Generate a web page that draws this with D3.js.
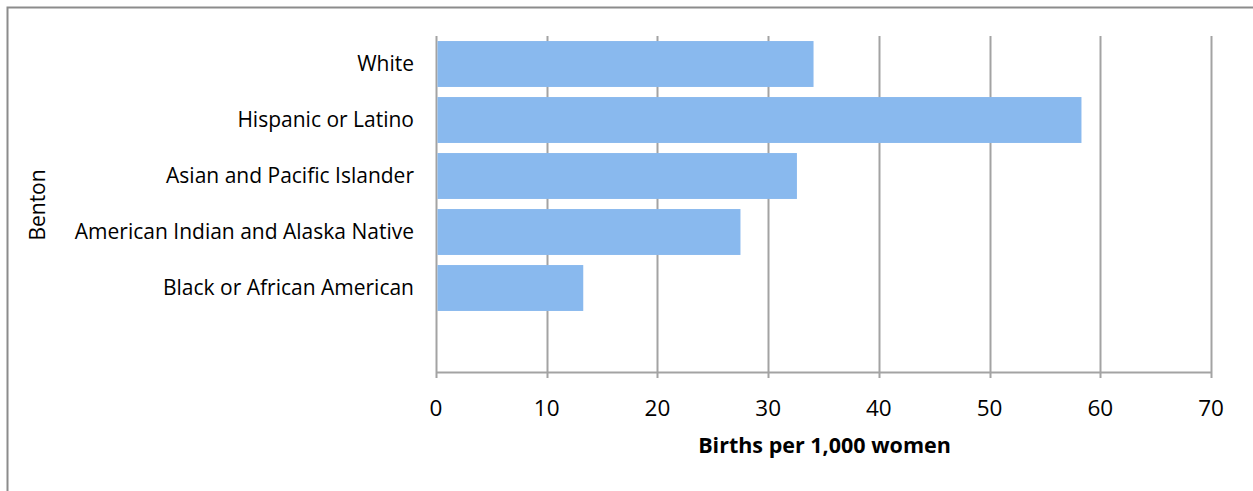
<!DOCTYPE html>
<html>
<head>
<meta charset="utf-8">
<script src="https://cdn.jsdelivr.net/npm/d3@7"></script>
<style>
  html, body { margin: 0; padding: 0; background: #fff; }
  svg { display: block; }
  text { font-family: "Open Sans", "Noto Sans", sans-serif; fill: #000; }
</style>
</head>
<body>
<svg id="chart" width="1253" height="491"></svg>
<script>
// Birth rates by race, Benton County (births per 1,000 women)
const categories = ["White", "Hispanic or Latino", "Asian and Pacific Islander",
                    "American Indian and Alaska Native", "Black or African American", ""];
const births = [34.1, 58.3, 32.6, 27.5, 13.3, null];
const xTicks = [0, 10, 20, 30, 40, 50, 60, 70];
const groupLabel = "Benton";
const xTitle = "Births per 1,000 women";

const svg = d3.select("#chart");
const W = 1253, H = 491;
const plot = { left: 436, right: 1211, top: 36, bottom: 372 };
const gridColor = "#a3a3a3";
const barColor = "#89b9ee";

svg.append("rect").attr("width", W).attr("height", H).attr("fill", "#fff");

// Chart frame
svg.append("rect")
  .attr("x", 7.5).attr("y", 7.5)
  .attr("width", W + 20).attr("height", H + 20)
  .attr("fill", "none").attr("stroke", "#8c8c8c").attr("stroke-width", 2);

const x = d3.scaleLinear().domain([0, 70]).range([plot.left, plot.right]);
const y = d3.scaleBand().domain(categories)
  .range([plot.top, plot.bottom])
  .paddingInner(0.18).paddingOuter(0.09);

// Vertical gridlines, extending below the axis as tick marks
svg.append("g").selectAll("line").data(xTicks).join("line")
  .attr("x1", d => Math.round(x(d)) + 0.5).attr("x2", d => Math.round(x(d)) + 0.5)
  .attr("y1", plot.top).attr("y2", plot.bottom + 6)
  .attr("stroke", gridColor).attr("stroke-width", 2);

// Horizontal value axis line
svg.append("line")
  .attr("x1", plot.left).attr("x2", plot.right + 1)
  .attr("y1", plot.bottom + 0.5).attr("y2", plot.bottom + 0.5)
  .attr("stroke", gridColor).attr("stroke-width", 2);

// Bars
const rows = categories.map((c, i) => ({ c, v: births[i] })).filter(d => d.v != null);
svg.append("g").selectAll("rect").data(rows).join("rect")
  .attr("x", x(0) + 1.5)
  .attr("y", d => y(d.c))
  .attr("width", d => x(d.v) - x(0) - 1.5)
  .attr("height", y.bandwidth())
  .attr("fill", barColor);

// Category labels
svg.append("g").selectAll("text").data(categories.filter(c => c !== "")).join("text")
  .attr("x", 414)
  .attr("y", d => y(d) + y.bandwidth() / 2)
  .attr("dy", "0.35em")
  .attr("text-anchor", "end")
  .attr("font-size", 21)
  .text(d => d);

// Value tick labels
svg.append("g").selectAll("text").data(xTicks).join("text")
  .attr("x", d => x(d))
  .attr("y", 408)
  .attr("dy", "0.35em")
  .attr("text-anchor", "middle")
  .attr("font-size", 22.5)
  .text(d => d);

// Axis titles
svg.append("text")
  .attr("x", (plot.left + plot.right) / 2 + 1)
  .attr("y", 445)
  .attr("dy", "0.35em")
  .attr("text-anchor", "middle")
  .attr("font-size", 21.5)
  .attr("font-weight", "bold")
  .text(xTitle);

svg.append("text")
  .attr("transform", `translate(38, ${(plot.top + plot.bottom) / 2 + 1}) rotate(-90)`)
  .attr("dy", "0.35em")
  .attr("text-anchor", "middle")
  .attr("font-size", 21)
  .text(groupLabel);
</script>
</body>
</html>
